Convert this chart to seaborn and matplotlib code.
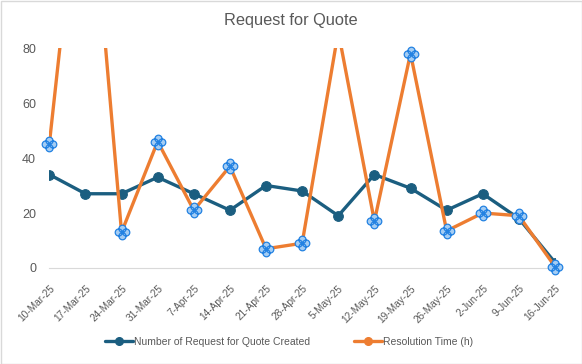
import numpy as np
import pandas as pd
import matplotlib
matplotlib.use("Agg")
import matplotlib.pyplot as plt
from matplotlib.path import Path
from matplotlib.lines import Line2D
from matplotlib.patches import Rectangle
import seaborn as sns

dates = ["10-Mar-25", "17-Mar-25", "24-Mar-25", "31-Mar-25", "7-Apr-25", "14-Apr-25",
         "21-Apr-25", "28-Apr-25", "5-May-25", "12-May-25", "19-May-25", "26-May-25",
         "2-Jun-25", "9-Jun-25", "16-Jun-25"]
rfq_created = [34, 27, 27, 33, 27, 21, 30, 28, 19, 34, 29, 21, 27, 18, 2]
resolution_h = [45, 165, 13, 46, 21, 37, 7, 9, 86, 17, 78, 13.5, 20, 19, 0.5]
y_ticks = [0, 20, 40, 60, 80]
title = "Request for Quote"
series_names = ["Number of Request for Quote Created", "Resolution Time (h)"]

sns.set_style("white")
FONT = ["Liberation Sans Narrow", "Liberation Sans", "DejaVu Sans"]
plt.rcParams["font.family"] = FONT

BLUE = "#1B5E80"
ORANGE = "#ED7D31"
GRAY = "#595959"
LIGHT = "#D9D9D9"

df = pd.DataFrame({"pos": np.arange(len(dates)), "date": dates,
                   "rfq": rfq_created, "res": resolution_h})

# clover marker: four circles
circles = [Path.circle((dx, dy), 1.0) for dx, dy in [(1.05, 0), (-1.05, 0), (0, 1.05), (0, -1.05)]]
clover = Path.make_compound_path(*circles)

fig = plt.figure(figsize=(5.82, 3.64), dpi=100)
ax = fig.add_axes([49.3 / 582, 1 - 268 / 364, (555 - 49.3) / 582, 220 / 364])

sns.lineplot(data=df, x="pos", y="rfq", ax=ax, color=BLUE, lw=2.4,
             marker="o", markersize=7, markeredgecolor=BLUE, zorder=3)
sns.lineplot(data=df, x="pos", y="res", ax=ax, color=ORANGE, lw=2.4, zorder=4)
inrange = df[df["res"] <= y_ticks[-1]]
sns.scatterplot(data=inrange, x="pos", y="res", ax=ax, marker=clover, s=10.5 ** 2,
                color="#A4CDF4", edgecolor="#2382E2", linewidth=0.9, zorder=5,
                clip_on=False)

ax.set_xlim(0, len(dates) - 1)
ax.set_ylim(y_ticks[0], y_ticks[-1])
ax.set_xticks(df["pos"])
ax.set_xticklabels(dates, rotation=45, ha="right", rotation_mode="anchor",
                   fontsize=7.3, color=GRAY)
ax.set_yticks(y_ticks)
ax.set_yticklabels([str(v) for v in y_ticks], fontsize=9, color=GRAY)
ax.tick_params(axis="x", length=5, color=LIGHT, width=0.8, pad=6)
ax.tick_params(axis="y", length=0, pad=9.5)
ax.set_xlabel("")
ax.set_ylabel("")
for s in ["top", "right", "left"]:
    ax.spines[s].set_visible(False)
ax.spines["bottom"].set_color(LIGHT)
ax.spines["bottom"].set_linewidth(0.8)
ax.grid(False)

fig.text(0.5, 1 - 20 / 364, title, ha="center", va="center", fontsize=11.8, color=GRAY)

handles = [Line2D([], [], color=BLUE, lw=2.4, marker="o", markersize=5.5),
           Line2D([], [], color=ORANGE, lw=2.4, marker="o", markersize=5.5)]
fig.legend(handles, series_names, loc="center", bbox_to_anchor=(289 / 582, 1 - 342 / 364),
           ncol=2, frameon=False, fontsize=7.5, handlelength=2.7, handletextpad=0.1,
           columnspacing=4.2, labelcolor=GRAY)

fig.patches.append(Rectangle((0.5 / 582, 0.5 / 364), 1 - 1 / 582, 1 - 1 / 364,
                             transform=fig.transFigure, fill=False, edgecolor=LIGHT, lw=1))

fig.savefig("out.png", dpi=100)
